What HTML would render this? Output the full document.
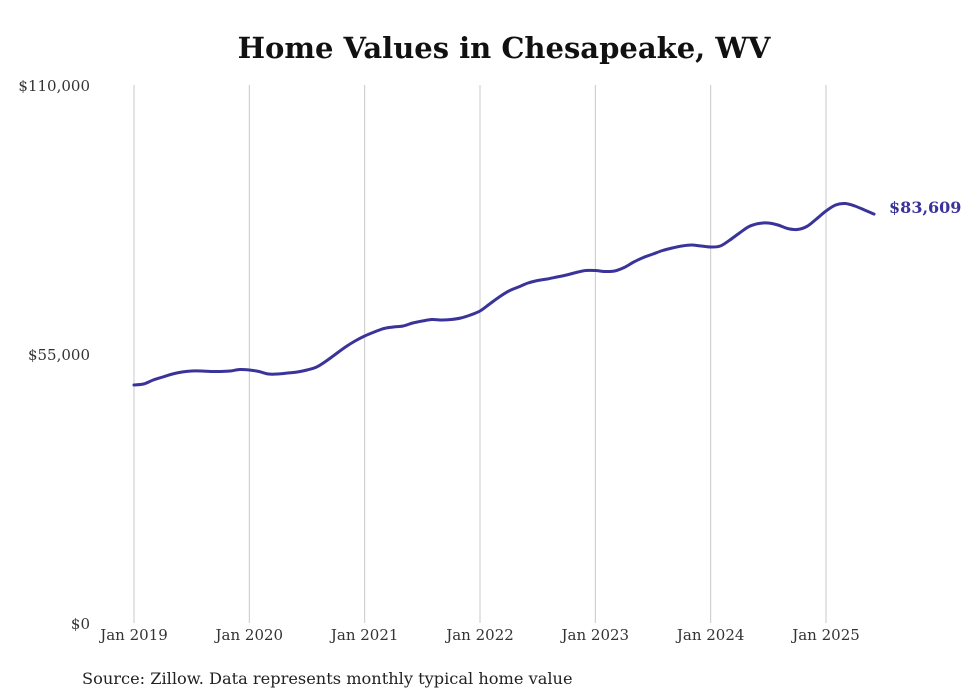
<!DOCTYPE html>
<html><head><meta charset="utf-8"><style>
body{margin:0;background:#fff;}
svg{display:block;font-family:"DejaVu Serif","Liberation Serif",serif;}
</style></head><body>
<svg width="980" height="699" id="chart">
<text x="504" y="58" text-anchor="middle" font-size="29" font-weight="bold" fill="#111">Home Values in Chesapeake, WV</text>
<g id="grid"></g><g id="yticks"></g><g id="xticks"></g><g id="series"></g>
<text x="82" y="684" font-size="16.2" fill="#222">Source: Zillow. Data represents monthly typical home value</text>
</svg>
<script>
const yTickValues=[0,55000,110000];
const yTickLabels=["$0","$55,000","$110,000"];
const xTickYears=[2019,2020,2021,2022,2023,2024,2025];
const xTickLabels=["Jan 2019","Jan 2020","Jan 2021","Jan 2022","Jan 2023","Jan 2024","Jan 2025"];
const startYear=2019;
const homeValues=[48662,48866,49684,50297,50911,51320,51524,51524,51422,51422,51524,51831,
51728,51422,50911,50911,51115,51320,51728,52342,53569,55000,56431,57658,
58680,59498,60213,60520,60725,61338,61747,62054,61951,62054,62360,62974,
63792,65223,66654,67881,68699,69517,70028,70334,70743,71152,71663,72072,
72072,71868,71970,72686,73810,74730,75446,76162,76673,77082,77286,77082,
76877,77082,78308,79740,81068,81682,81784,81375,80659,80455,81068,82602,
84238,85465,85771,85260,84442,83609];
const endLabel="$83,609";
const NS="http://www.w3.org/2000/svg";
const y=v=>623-v*538/110000;
const x=m=>134+m*(826-134)/72;
function mk(t,a,p){const e=document.createElementNS(NS,t);for(const k in a)e.setAttribute(k,a[k]);p.appendChild(e);return e;}
const grid=document.getElementById('grid'),yt=document.getElementById('yticks'),xt=document.getElementById('xticks'),s=document.getElementById('series');
yTickValues.forEach((v,i)=>{
 const t=mk('text',{x:90,y:y(v)+6,'text-anchor':'end','font-size':15,fill:'#333'},yt);
 t.textContent=yTickLabels[i];
 
 
});
xTickYears.forEach((yr,i)=>{
 const m=(yr-startYear)*12;
 const l=mk('line',{x1:x(m),x2:x(m),y1:85,y2:623,stroke:'#c8c8c8','stroke-width':1},grid);
 
 
 const t=mk('text',{x:x(m),y:640,'text-anchor':'middle','font-size':15,fill:'#333'},xt);
 t.textContent=xTickLabels[i];
 
 
});
const pts=homeValues.map((v,i)=>[x(i),y(v)]);
let d='M'+pts[0][0]+','+pts[0][1];
for(let i=1;i<pts.length;i++){const p0=pts[Math.max(0,i-2)],p1=pts[i-1],p2=pts[i],p3=pts[Math.min(pts.length-1,i+1)];
 d+=' C'+(p1[0]+(p2[0]-p0[0])/6)+','+(p1[1]+(p2[1]-p0[1])/6)+' '+(p2[0]-(p3[0]-p1[0])/6)+','+(p2[1]-(p3[1]-p1[1])/6)+' '+p2[0]+','+p2[1];}
const path=mk('path',{d:d,fill:'none',stroke:'#3a3399','stroke-width':3,'stroke-linejoin':'round','stroke-linecap':'round'},s);


const last=pts[pts.length-1];
const el=mk('text',{x:last[0]+15,y:last[1]-1,'font-size':16,'font-weight':'bold',fill:'#3a3399'},s);
el.textContent=endLabel;


</script>
</body></html>
